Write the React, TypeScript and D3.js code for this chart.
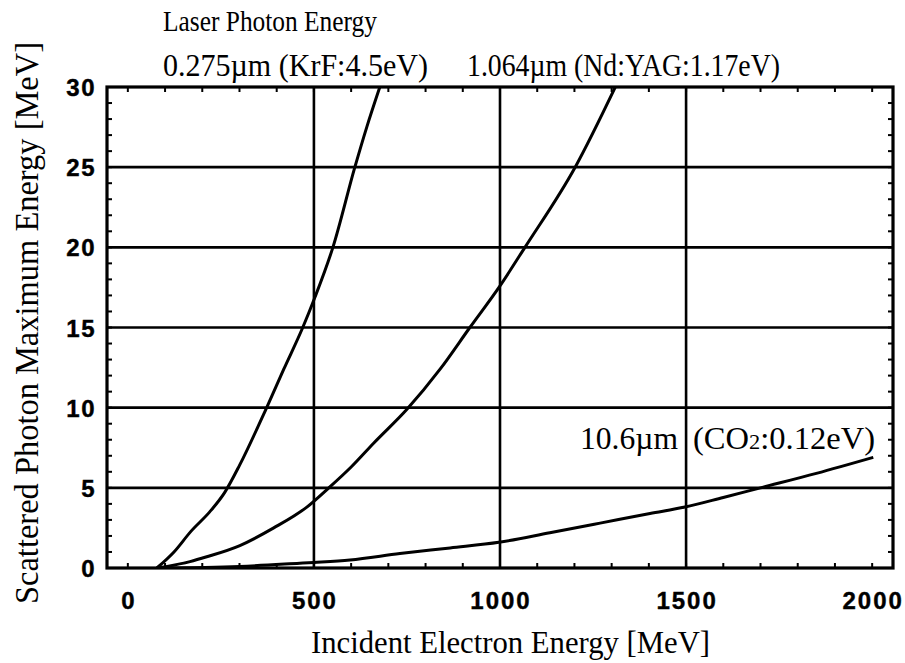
import React, { useRef, useEffect } from "react"
import * as d3 from "d3"

// curves: [electron energy MeV, max photon energy MeV]
const krfCurve: [number, number][] = [
  [78, 0], [124, 1.0], [170, 2.3], [220, 3.5], [260, 4.7], [300, 6.4],
  [371, 9.9], [419, 12.4], [470, 15], [503, 16.9], [551, 20], [610, 25], [642, 27.5], [680, 30.2],
]
const yagCurve: [number, number][] = [
  [78, 0], [167, 0.4], [212, 0.7], [301, 1.4], [392, 2.5], [481, 3.8], [540, 5.0],
  [600, 6.3], [661, 7.8], [750, 9.9], [839, 12.4], [919, 15], [1000, 17.6], [1067, 20],
  [1202, 25], [1312, 30.1],
]
const co2Curve: [number, number][] = [
  [78, 0], [300, 0.1], [462, 0.3], [500, 0.35], [597, 0.5], [731, 0.9], [866, 1.25],
  [997, 1.6], [1134, 2.2], [1269, 2.8], [1403, 3.4], [1497, 3.8], [1600, 4.4], [1700, 5.0],
  [1850, 5.9], [2003, 6.9],
]

const xTicks = [0, 500, 1000, 1500, 2000]
const yTicks = [0, 5, 10, 15, 20, 25, 30]
const xGrid = [500, 1000, 1500]
const yGrid = [5, 10, 15, 20, 25]
const xMinor = d3.range(0, 2001, 100)
const yMinor = d3.range(0, 31, 1)

const serif = "'Liberation Serif', 'Times New Roman', serif"
const sans = "'Liberation Sans', Arial, sans-serif"

export default function App() {
  const ref = useRef<SVGSVGElement>(null)

  useEffect(() => {
    const svg = d3.select(ref.current)
    svg.selectAll("*").remove()

    const left = 107, right = 893, top = 87, bottom = 568
    const x = d3.scaleLinear().domain([-56, 2056]).range([left, right])
    const y = d3.scaleLinear().domain([0, 30]).range([bottom, top])

    svg.append("rect").attr("width", 905).attr("height", 663).attr("fill", "white")

    svg.append("clipPath").attr("id", "plotclip")
      .append("rect").attr("x", left).attr("y", top)
      .attr("width", right - left).attr("height", bottom - top)

    // grid
    svg.selectAll(".vgrid").data(xGrid).enter().append("line")
      .attr("x1", d => x(d)).attr("x2", d => x(d))
      .attr("y1", top).attr("y2", bottom)
      .attr("stroke", "black").attr("stroke-width", 2.6)
    svg.selectAll(".hgrid").data(yGrid).enter().append("line")
      .attr("x1", left).attr("x2", right)
      .attr("y1", d => y(d)).attr("y2", d => y(d))
      .attr("stroke", "black").attr("stroke-width", 2.6)

    // minor ticks inside the frame
    xMinor.forEach(v => {
      svg.append("line").attr("x1", x(v)).attr("x2", x(v)).attr("y1", bottom).attr("y2", bottom - 5)
        .attr("stroke", "black").attr("stroke-width", 2)
      svg.append("line").attr("x1", x(v)).attr("x2", x(v)).attr("y1", top).attr("y2", top + 5)
        .attr("stroke", "black").attr("stroke-width", 2)
    })
    yMinor.forEach(v => {
      svg.append("line").attr("x1", left).attr("x2", left + 5).attr("y1", y(v)).attr("y2", y(v))
        .attr("stroke", "black").attr("stroke-width", 2)
      svg.append("line").attr("x1", right).attr("x2", right - 5).attr("y1", y(v)).attr("y2", y(v))
        .attr("stroke", "black").attr("stroke-width", 2)
    })

    // curves
    const line = d3.line<[number, number]>()
      .x(d => x(d[0])).y(d => y(d[1]))
      .curve(d3.curveMonotoneX)
    const g = svg.append("g").attr("clip-path", "url(#plotclip)")
    ;[krfCurve, yagCurve, co2Curve].forEach(c => {
      g.append("path").attr("d", line(c)!)
        .attr("fill", "none").attr("stroke", "black").attr("stroke-width", 3)
        .attr("stroke-linejoin", "round")
    })

    // frame
    svg.append("rect").attr("x", left).attr("y", top)
      .attr("width", right - left).attr("height", bottom - top)
      .attr("fill", "none").attr("stroke", "black").attr("stroke-width", 3.2)

    // tick labels
    svg.selectAll(".xt").data(xTicks).enter().append("text")
      .attr("x", d => x(d) + 1).attr("y", 609)
      .attr("text-anchor", "middle")
      .attr("font-family", sans).attr("font-weight", "bold").attr("font-size", 24)
      .attr("letter-spacing", 2)
      .attr("stroke", "black").attr("stroke-width", 0.4)
      .text(d => d)
    svg.selectAll(".yt").data(yTicks).enter().append("text")
      .attr("x", 96).attr("y", d => y(d) + 9)
      .attr("text-anchor", "end")
      .attr("font-family", sans).attr("font-weight", "bold").attr("font-size", 24)
      .attr("letter-spacing", 1.5)
      .attr("stroke", "black").attr("stroke-width", 0.4)
      .text(d => d)

    // axis titles
    svg.append("text").attr("x", 311).attr("y", 653)
      .attr("font-family", serif).attr("font-size", 32)
      .attr("textLength", 399).attr("lengthAdjust", "spacingAndGlyphs")
      .text("Incident Electron Energy [MeV]")
    svg.append("text")
      .attr("transform", "translate(38,323) rotate(-90)")
      .attr("text-anchor", "middle")
      .attr("font-family", serif).attr("font-size", 33)
      .attr("textLength", 562).attr("lengthAdjust", "spacingAndGlyphs")
      .text("Scattered Photon Maximum Energy [MeV]")

    // curve labels
    const lab = (tx: number, ty: number, len: number, size: number, s: string) =>
      svg.append("text").attr("x", tx).attr("y", ty)
        .attr("font-family", serif).attr("font-size", size)
        .attr("textLength", len).attr("lengthAdjust", "spacingAndGlyphs")
        .text(s)
    lab(163, 31, 214, 29, "Laser Photon Energy")
    lab(163, 76, 265, 31, "0.275\u00b5m (KrF:4.5eV)")
    lab(467, 76, 313, 31, "1.064\u00b5m (Nd:YAG:1.17eV)")
    lab(580, 449, 98, 32, "10.6\u00b5m")

    const co2 = svg.append("text").attr("x", 693).attr("y", 449)
      .attr("font-family", serif).attr("font-size", 32)
      .attr("textLength", 182).attr("lengthAdjust", "spacingAndGlyphs")
    co2.append("tspan").text("(CO")
    co2.append("tspan").attr("font-size", 22).text("2")
    co2.append("tspan").text(":0.12eV)")
  }, [])

  return (
    <svg ref={ref} width={905} height={663}
      style={{ position: "absolute", left: 0, top: 0 }} />
  )
}
